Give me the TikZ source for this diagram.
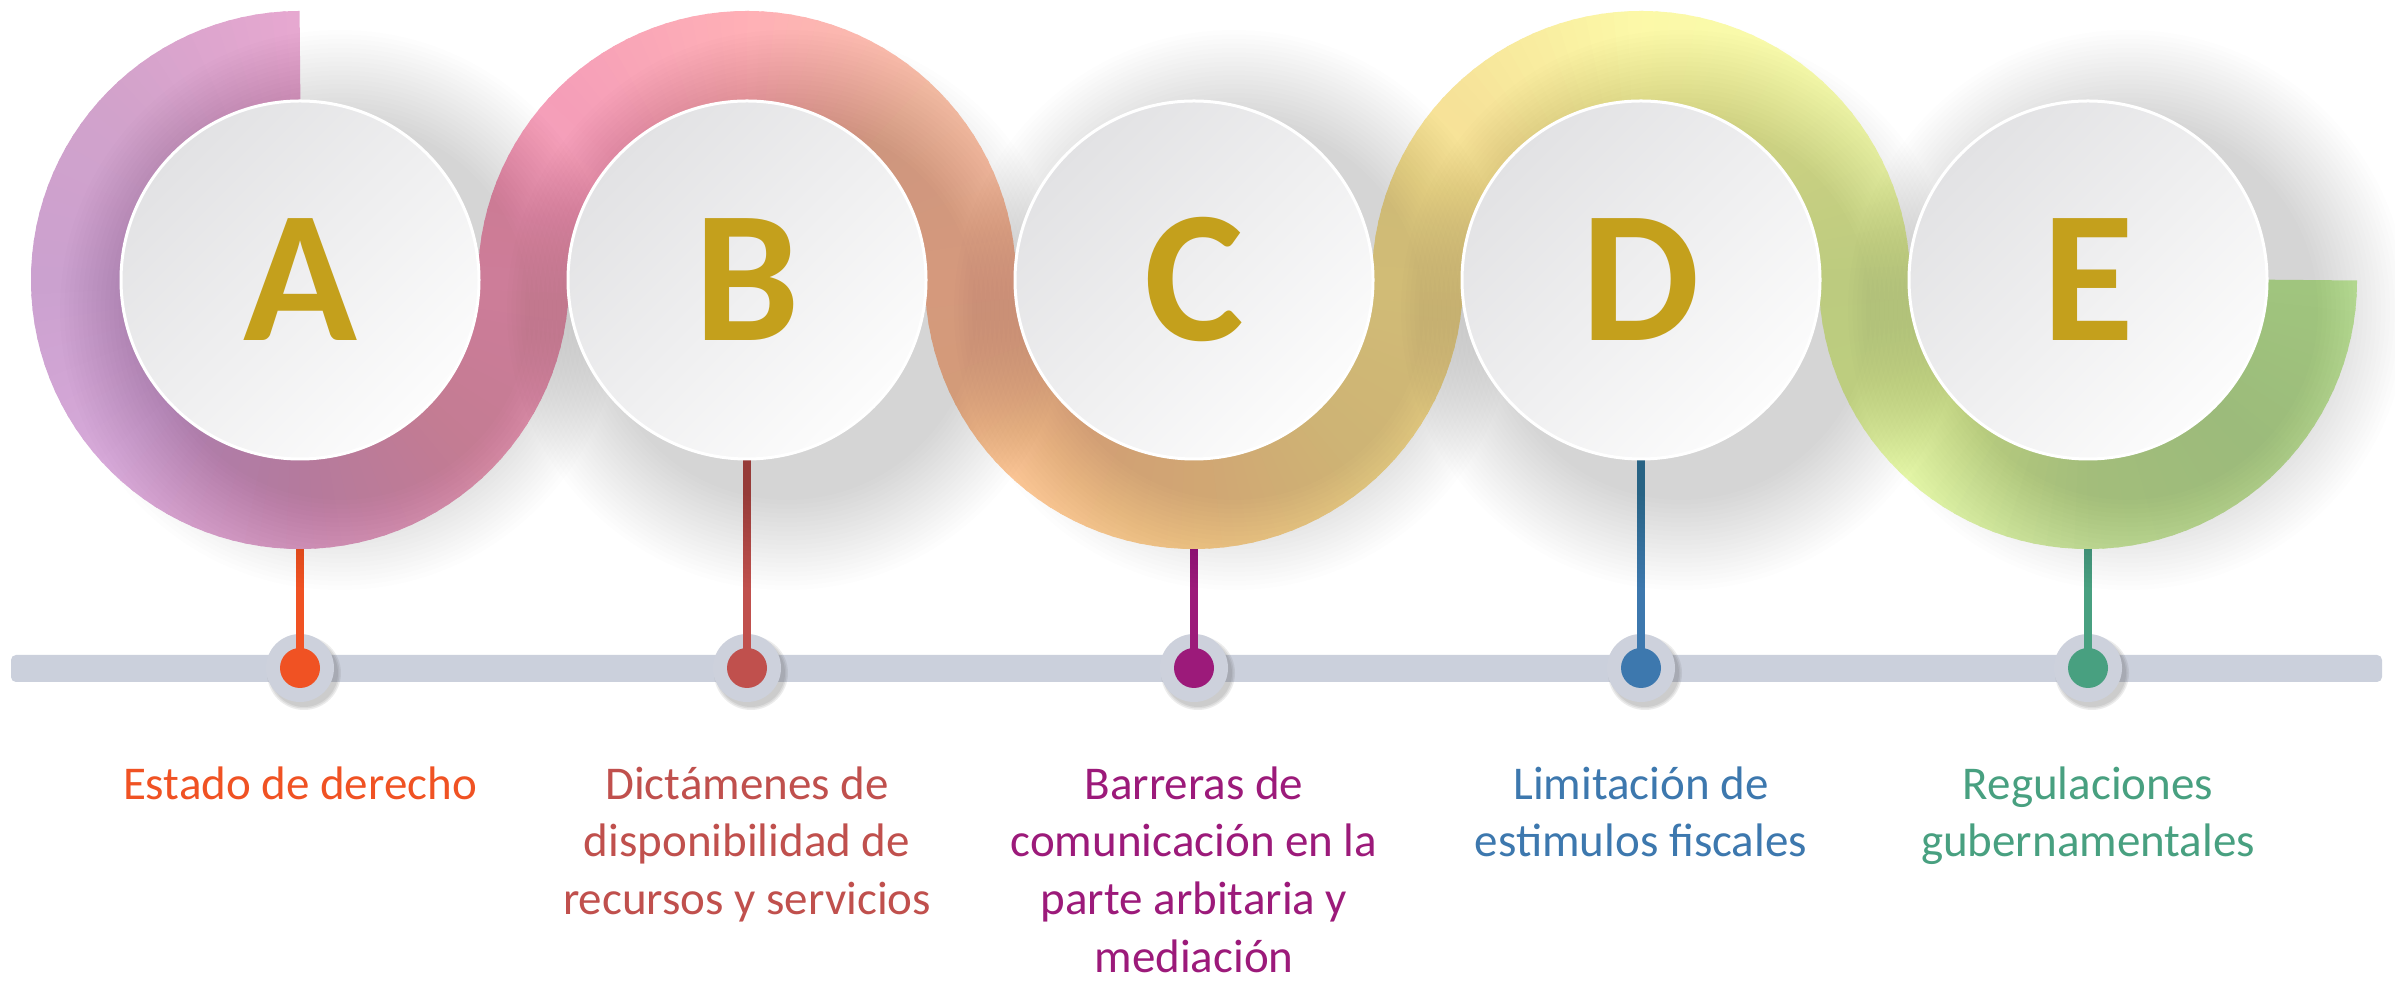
\documentclass[tikz,border=0pt]{standalone}
\usepackage{fontspec}
\setmainfont{Carlito}
\definecolor{gold}{HTML}{C4A01C}
\definecolor{barc}{HTML}{CBD0DC}
\definecolor{haloc}{HTML}{CDD1DC}
\definecolor{circtop}{HTML}{E2E2E4}
\definecolor{circbot}{HTML}{FCFCFC}
\definecolor{colA}{HTML}{F05223}
\definecolor{colB}{HTML}{C0504D}
\definecolor{colC}{HTML}{9C1A7A}
\definecolor{colD}{HTML}{3D78AE}
\definecolor{colE}{HTML}{48A080}
\newcommand\bandpiece[5]{%
  \definecolor{bcone}{HTML}{#4}\definecolor{bctwo}{HTML}{#5}%
  \foreach \k in {0,...,14}{%
    \pgfmathsetmacro\bpa{#2+(#3-#2)*\k/15}%
    \pgfmathsetmacro\bpb{#2+(#3-#2)*(\k+1)/15+(#3-#2)/45*1.0}%
    \pgfmathtruncatemacro\bpp{100-100*(\k+0.5)/15}%
    \colorlet{bandtmp}{bcone!\bpp!bctwo}%
    \draw[bandtmp, line width=91] ([shift={(#1,701)}]\bpa:223.5) arc[start angle=\bpa, end angle=\bpb, radius=223.5];
  }}
\newcommand\circshadows[1]{%
  \foreach \cx in {300,747,1194,1641,2088}{%
    \foreach \r in {190,194.5,...,280}{%
      \fill[black, opacity=#1] (\cx+40,671) circle[radius=\r];
    }}}
\tikzset{
  bigcirc/.style={circle, minimum size=358, inner sep=0pt, top color=circtop, bottom color=circbot, shading angle=45, draw=white, line width=3, text=gold, font=\fontsize{188}{188}\selectfont\bfseries},
  halo/.style={circle, fill=haloc, minimum size=68, inner sep=0pt},
  dot/.style={circle, minimum size=40, inner sep=0pt},
  stem/.style={line width=8},
  labeltext/.style={align=center, inner sep=0pt, anchor=north, font=\fontsize{47}{57.6}\selectfont}
}
\begin{document}
\begin{tikzpicture}[x=1pt,y=1pt]
\useasboundingbox (0,0) rectangle (2395,981);
\fill[white] (0,0) rectangle (2395,981);
% band A (CCW 90 -> 360)
\bandpiece{300}{90}{135}{E7A8D0}{D2A2CB}
\bandpiece{300}{135}{180}{D2A2CB}{CBA1CF}
\bandpiece{300}{180}{225}{CBA1CF}{D7A9D9}
\bandpiece{300}{225}{270}{D7A9D9}{DEA0C7}
\bandpiece{300}{270}{315}{DEA0C7}{EEA3BD}
\bandpiece{300}{315}{360}{EEA3BD}{F7A5C3}
% band B (CW 180 -> 0)
\bandpiece{747}{180}{135}{F7A5C3}{F59EB8}
\bandpiece{747}{135}{90}{F59EB8}{FFB0B6}
\bandpiece{747}{90}{45}{FFB0B6}{F8C0A8}
\bandpiece{747}{45}{0}{F8C0A8}{FFC3A5}
% band C (CCW 180 -> 360)
\bandpiece{1194}{180}{225}{FFC3A5}{FCC697}
\bandpiece{1194}{225}{270}{FCC697}{FBD092}
\bandpiece{1194}{270}{315}{FBD092}{F8DE95}
\bandpiece{1194}{315}{360}{F8DE95}{FBE698}
% band D (CW 180 -> 0)
\bandpiece{1641}{180}{135}{FBE698}{F6E298}
\bandpiece{1641}{135}{90}{F6E298}{FCF9A8}
\bandpiece{1641}{90}{45}{FCF9A8}{F6FBAC}
\bandpiece{1641}{45}{0}{F6FBAC}{E6F5A9}
% band E (CCW 180 -> 360)
\bandpiece{2088}{180}{225}{E6F5A9}{E7F9A9}
\bandpiece{2088}{225}{270}{E7F9A9}{CDE7A2}
\bandpiece{2088}{270}{315}{CDE7A2}{C6E5A1}
\bandpiece{2088}{315}{359}{C6E5A1}{CAEFA7}
% timeline bar
\node[fill=barc, rounded corners=5, minimum width=2371, minimum height=27, inner sep=0pt] (bar) at (1196.5,312.5) {};
% halo shadows and halos
\foreach \cx in {300,747,1194,1641,2088}{
  \foreach \r in {34,35.5,37}{
    \fill[black!70, opacity=0.10] (\cx+4,308) circle[radius=\r];
  }
}
\node[halo] (hA) at (300,313) {};
\node[halo] (hB) at (747,313) {};
\node[halo] (hC) at (1194,313) {};
\node[halo] (hD) at (1641,313) {};
\node[halo] (hE) at (2088,313) {};
% stem start points
\coordinate (bA) at (300,432);
\coordinate (sB) at (747,523);
\coordinate (bC) at (1194,432);
\coordinate (sD) at (1641,523);
\coordinate (bE) at (2088,432);
\draw[stem, colA] (bA) -- (hA.center);
\draw[stem, colB] (sB) -- (hB.center);
\draw[stem, colC] (bC) -- (hC.center);
\draw[stem, colD] (sD) -- (hD.center);
\draw[stem, colE] (bE) -- (hE.center);
% soft shadows of the big circles (over band and stems)
\circshadows{0.0094}
% big circles
\node[bigcirc] (cA) at (300,701) {A};
\node[bigcirc] (cB) at (747,701) {B};
\node[bigcirc] (cC) at (1194,701) {C};
\node[bigcirc] (cD) at (1641,701) {D};
\node[bigcirc] (cE) at (2088,701) {E};
% dots
\node[dot, fill=colA] (dA) at (hA.center) {};
\node[dot, fill=colB] (dB) at (hB.center) {};
\node[dot, fill=colC] (dC) at (hC.center) {};
\node[dot, fill=colD] (dD) at (hD.center) {};
\node[dot, fill=colE] (dE) at (hE.center) {};
% labels
\node[labeltext, text=colA] (lA) at (300,222.3) {\strut Estado de derecho};
\node[labeltext, text=colB] (lB) at (747,222.3) {\strut Dictámenes de\\disponibilidad de\\recursos y servicios};
\node[labeltext, text=colC] (lC) at (1194,222.3) {\strut Barreras de\\comunicación en la\\parte arbitaria y\\mediación};
\node[labeltext, text=colD] (lD) at (1641,222.3) {\strut Limitación de\\estimulos fiscales};
\node[labeltext, text=colE] (lE) at (2088,222.3) {\strut Regulaciones\\gubernamentales};
\end{tikzpicture}
\end{document}
